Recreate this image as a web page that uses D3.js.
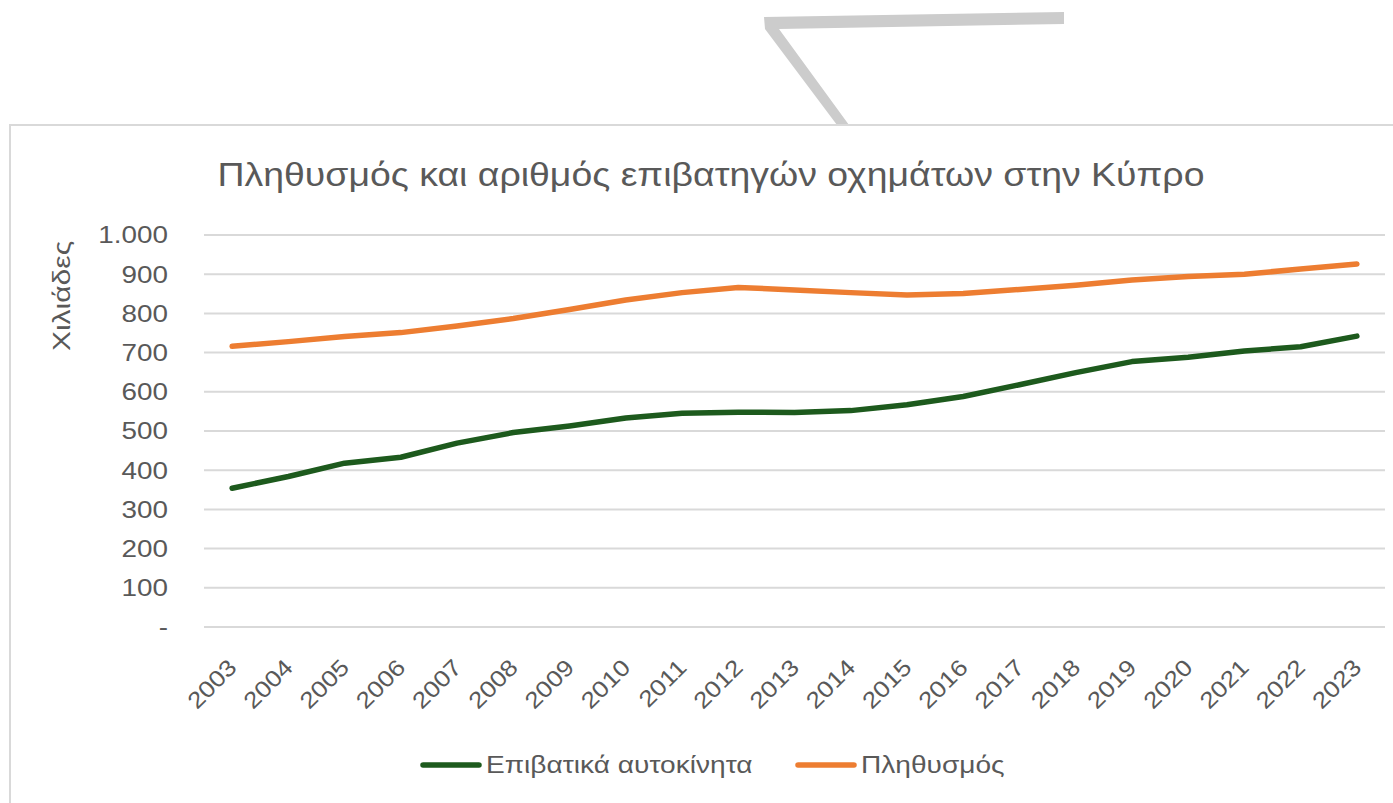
<!DOCTYPE html>
<html>
<head>
<meta charset="utf-8">
<script src="https://cdn.jsdelivr.net/npm/d3@7"></script>
<style>
  body { margin: 0; background: #fff; }
  svg { display: block; font-family: "Liberation Sans", Arial, sans-serif; }
</style>
</head>
<body>
<div id="main"></div>
<script>
// data (thousands)
var years = ["2003","2004","2005","2006","2007","2008","2009","2010","2011","2012","2013",
             "2014","2015","2016","2017","2018","2019","2020","2021","2022","2023"];
var cars = [354, 384, 418, 433, 469, 496, 513, 533, 545, 548, 547,
            552, 567, 588, 618, 649, 677, 688, 704, 715, 742];
var population = [716, 728, 741, 751, 768, 787, 810, 834, 853, 866, 860,
                  853, 847, 851, 861, 872, 885, 894, 900, 913, 926];
var yTicks = [0, 100, 200, 300, 400, 500, 600, 700, 800, 900, 1000];

var titleText = "Πληθυσμός και αριθμός επιβατηγών οχημάτων στην Κύπρο";
var yTitle = "Χιλιάδες";
var seriesNames = ["Επιβατικά αυτοκίνητα", "Πληθυσμός"];
var colors = ["#1d5a1d", "#ed7d31"];

var W = 1393, H = 803;
var textCol = "#595959";

// the reference type is a bit wider than Liberation Sans
function stretch(sel, f) {
  sel.each(function() {
    var len = this.getComputedTextLength();
    d3.select(this).attr("textLength", len * f).attr("lengthAdjust", "spacingAndGlyphs");
  });
}

var svg = d3.select("#main").append("svg")
  .attr("width", W).attr("height", H);

// stray gray shape at the top
svg.append("path")
  .attr("d", "M764,17 L1064,12 L1064,24 L779,29 L849,125 L837,125 L765,29 Z")
  .attr("fill", "#cccccc");

// chart frame
svg.append("rect")
  .attr("x", 10).attr("y", 125)
  .attr("width", W + 20).attr("height", H)
  .attr("fill", "#fff")
  .attr("stroke", "#d9d9d9").attr("stroke-width", 2);

var x = d3.scalePoint().domain(years).range([204, 1385]).padding(0.5);
var y = d3.scaleLinear().domain([0, 1000]).range([627, 235]);

var loc = d3.formatLocale({decimal: ",", thousands: ".", grouping: [3], currency: ["", "€"]});
var fmt = loc.format(",");

// gridlines
svg.append("g").selectAll("line").data(yTicks).join("line")
  .attr("x1", 204).attr("x2", 1385)
  .attr("y1", function(d) { return y(d); })
  .attr("y2", function(d) { return y(d); })
  .attr("stroke", "#d9d9d9").attr("stroke-width", 2);

// y labels
svg.append("g").selectAll("text").data(yTicks).join("text")
  .attr("x", 168)
  .attr("y", function(d) { return y(d); })
  .attr("dy", "0.35em")
  .attr("text-anchor", "end")
  .attr("font-size", 24)
  .attr("fill", textCol)
  .text(function(d) { return d === 0 ? "-" : fmt(d); })
  .call(stretch, 1.16);

// x labels
svg.append("g").selectAll("text").data(years).join("text")
  .attr("text-anchor", "end")
  .attr("font-size", 23)
  .attr("fill", textCol)
  .attr("transform", function(d) { return "translate(" + (x(d) + 6) + ",669) rotate(-45)"; })
  .text(function(d) { return d; })
  .call(stretch, 1.14);

// y axis title
svg.append("text")
  .attr("transform", "translate(70,296) rotate(-90)")
  .attr("text-anchor", "middle")
  .attr("font-size", 24)
  .attr("fill", textCol)
  .text(yTitle)
  .call(stretch, 1.25);

// title
svg.append("text")
  .attr("x", 711).attr("y", 186)
  .attr("text-anchor", "middle")
  .attr("font-size", 33)
  .attr("fill", textCol)
  .text(titleText)
  .call(stretch, 1.134);

// lines
var line = d3.line()
  .x(function(d, i) { return x(years[i]); })
  .y(function(d) { return y(d); });

[cars, population].forEach(function(s, k) {
  svg.append("path")
    .datum(s)
    .attr("d", line)
    .attr("fill", "none")
    .attr("stroke", colors[k])
    .attr("stroke-width", 5.5)
    .attr("stroke-linejoin", "round")
    .attr("stroke-linecap", "round");
});

// legend
var legX = [423, 798];
seriesNames.forEach(function(n, k) {
  var g = svg.append("g").attr("transform", "translate(" + legX[k] + ",765)");
  g.append("line")
    .attr("x1", 0).attr("x2", 56)
    .attr("stroke", colors[k]).attr("stroke-width", 5.5)
    .attr("stroke-linecap", "round");
  g.append("text")
    .attr("x", 63).attr("dy", "0.35em")
    .attr("font-size", 24)
    .attr("fill", textCol)
    .text(n)
    .call(stretch, 1.17);
});
</script>
</body>
</html>
